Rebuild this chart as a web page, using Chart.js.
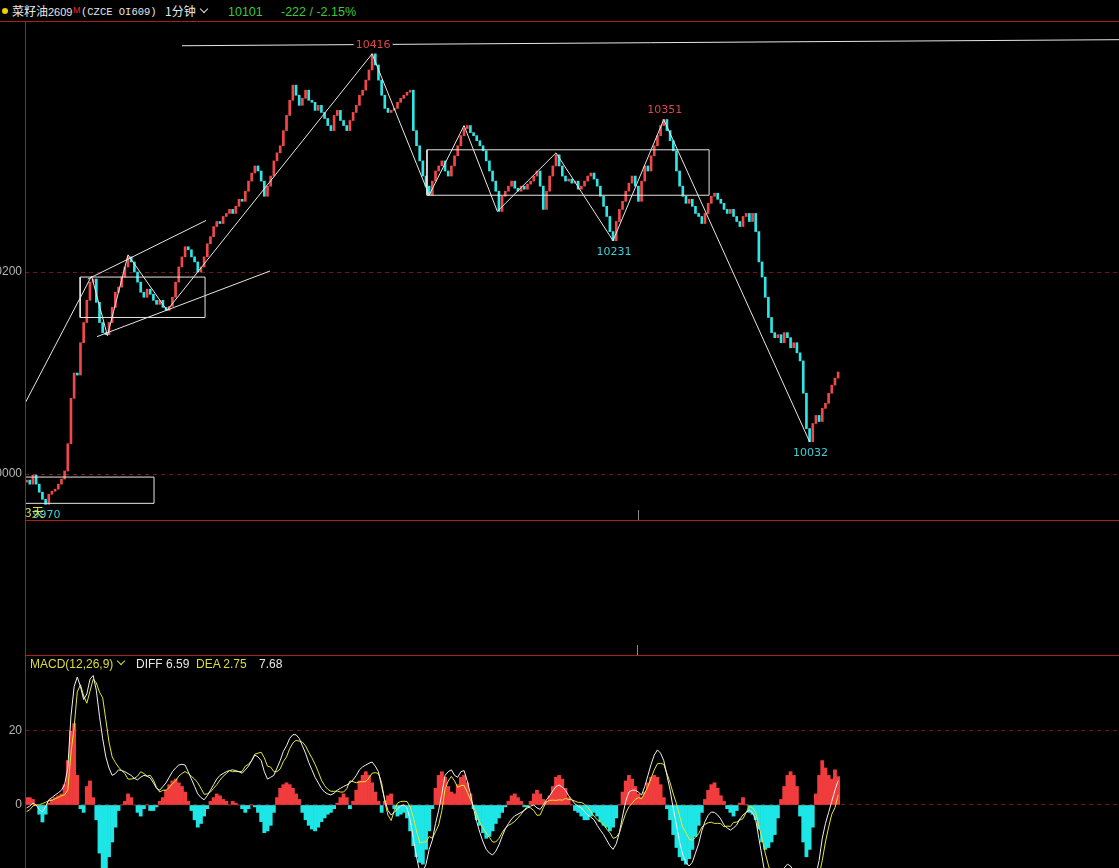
<!DOCTYPE html>
<html>
<head>
<meta charset="utf-8">
<script src="https://cdn.jsdelivr.net/npm/chart.js@4.4.1/dist/chart.umd.min.js"></script>
<style>
  body { margin: 0; background: #000; width: 1119px; height: 868px; overflow: hidden; position: relative; font-family: "Liberation Sans", Arial, sans-serif; }
  .abs { position: absolute; white-space: nowrap; line-height: 18px; }
  .red { position: absolute; background: #b01c1c; }
  canvas { position: absolute; left: 0; }
  .chev { position: absolute; width: 5px; height: 5px; border-right: 1.5px solid #e0e0e0; border-bottom: 1.5px solid #e0e0e0; transform: rotate(45deg); }
</style>
</head>
<body>
<canvas id="price" width="1119" height="499" style="top:21px"></canvas>
<canvas id="macd" width="1119" height="213" style="top:655px"></canvas>

<!-- panel frames -->
<div class="red" style="left:0;top:21px;width:1119px;height:1px"></div>
<div class="red" style="left:25px;top:520px;width:1094px;height:1px"></div>
<div class="red" style="left:25px;top:655px;width:1094px;height:1px"></div>
<div class="red" style="left:25px;top:21px;width:1px;height:847px"></div>
<div style="position:absolute;left:637px;top:645px;width:1px;height:10px;background:#888"></div>

<!-- header -->
<div style="position:absolute;left:2px;top:8px;width:6px;height:6px;border-radius:50%;background:#f0d000"></div>
<span class="abs" style="left:12px;top:2px;font-size:12px;font-family:'Noto Sans CJK SC';color:#e6e6e6">菜籽油</span>
<span class="abs" style="left:48px;top:3px;font-size:11px;color:#e6e6e6">2609</span>
<span class="abs" style="left:73px;top:1px;font-size:9px;color:#e03030">M</span>
<span class="abs" style="left:81px;top:3px;font-size:10.5px;font-family:'Liberation Mono';color:#e6e6e6">(CZCE OI609)</span>
<span class="abs" style="left:165px;top:2px;font-size:12px;font-family:'Noto Sans CJK SC';color:#e6e6e6">1分钟</span>
<div class="chev" style="left:201px;top:6px"></div>
<span class="abs" style="left:228px;top:3px;font-size:12.5px;color:#3cc83c">10101</span>
<span class="abs" style="left:281px;top:3px;font-size:12.5px;color:#3cc83c">-222 / -2.15%</span>

<!-- macd header -->
<span class="abs" style="left:30px;top:655px;font-size:12px;color:#dcdc3c">MACD(12,26,9)</span>
<div class="chev" style="left:118px;top:658px;border-color:#dcdc3c"></div>
<span class="abs" style="left:136px;top:655px;font-size:12px;color:#e8e8e8">DIFF 6.59</span>
<span class="abs" style="left:196px;top:655px;font-size:12px;color:#dcdc3c">DEA 2.75</span>
<span class="abs" style="left:259px;top:655px;font-size:12px;color:#e8e8e8">7.68</span>

<span class="abs" style="left:25px;top:503px;font-size:12px;font-family:'Noto Sans CJK SC';color:#e0e040;z-index:2">3天</span>

<script>
// 1-minute closes
const closes = [
  9994, 9990, 9999, 9990, 9982, 9975, 9970, 9980, 9983, 9985, 9990, 9995, 10003, 10030, 10075, 10100,
  10098, 10130, 10150, 10172, 10190, 10193, 10170, 10150, 10140, 10138, 10150, 10165, 10180, 10185, 10195, 10205,
  10215, 10210, 10200, 10190, 10180, 10175, 10183, 10178, 10172, 10168, 10172, 10165, 10162, 10166, 10175, 10190,
  10205, 10215, 10225, 10222, 10215, 10210, 10200, 10205, 10215, 10228, 10235, 10245, 10250, 10248, 10255, 10258,
  10262, 10258, 10265, 10272, 10270, 10280, 10290, 10298, 10305, 10300, 10290, 10275, 10285, 10295, 10310, 10318,
  10325, 10340, 10355, 10370, 10385, 10375, 10365, 10372, 10380, 10370, 10368, 10360, 10365, 10358, 10352, 10345,
  10340, 10355, 10360, 10350, 10345, 10340, 10350, 10358, 10365, 10375, 10380, 10390, 10400, 10416, 10405, 10390,
  10375, 10362, 10358, 10360, 10362, 10368, 10372, 10375, 10378, 10380, 10340, 10325, 10310, 10295, 10285, 10276,
  10290, 10300, 10305, 10310, 10300, 10295, 10305, 10315, 10325, 10335, 10342, 10345, 10338, 10335, 10330, 10325,
  10320, 10310, 10300, 10290, 10280, 10260, 10275, 10280, 10285, 10290, 10283, 10280, 10285, 10282, 10287, 10290,
  10295, 10300, 10285, 10262, 10280, 10295, 10305, 10316, 10305, 10295, 10290, 10292, 10288, 10290, 10282, 10285,
  10290, 10295, 10298, 10292, 10285, 10275, 10265, 10255, 10240, 10231, 10250, 10262, 10270, 10280, 10288, 10295,
  10285, 10270, 10290, 10305, 10300, 10315, 10325, 10335, 10345, 10351, 10340, 10330, 10320, 10300, 10285, 10275,
  10268, 10272, 10265, 10258, 10255, 10248, 10258, 10268, 10275, 10278, 10272, 10268, 10262, 10258, 10262, 10255,
  10250, 10245, 10255, 10258, 10250, 10258, 10240, 10210, 10195, 10175, 10155, 10140, 10135, 10138, 10130, 10140,
  10135, 10125, 10130, 10120, 10112, 10080, 10045, 10032, 10050, 10058, 10052, 10065, 10070, 10080, 10088, 10095, 10101
];
const firstOpen = 9992;

// MACD panel: DIFF (white line) and MACD bars
const diffLine = [
  -0.8, -0.3, 0.5, 0, -1.2, -1.9, -0.5, 1.4, 2, 2.7, 3.3, 4, 5.5, 10, 24, 32,
  34.6, 32, 28.5, 30, 34, 35, 31, 24, 18, 13, 10, 8, 8.5, 9.5, 9.3, 9,
  8.5, 8, 7.2, 6.8, 7.5, 8, 7.8, 7.3, 6, 4.5, 4, 5, 6, 7.5, 9, 10,
  10.8, 11, 10.8, 9, 7, 5, 3, 2, 1.4, 2.5, 4, 5.5, 7, 8, 8.5, 9,
  9.3, 9.5, 9.3, 9, 8.6, 9.5, 10.5, 12, 13.5, 13, 12, 9, 7, 7.5, 8, 10,
  12, 14.5, 16, 18, 19, 19, 18, 16, 14, 11.5, 9.5, 7.5, 6, 4.5, 3.5, 3,
  2.7, 3.2, 4, 4.5, 5, 5.4, 6, 6.8, 8, 9.5, 10.3, 10.8, 11.3, 11.6, 10.5, 9,
  5, 1.4, -1.5, -2.7, -2, -1, -0.3, 0, -0.8, -4, -9, -14, -18, -18, -16, -12,
  -9.5, -5, -1.4, 3, 8, 9, 9.5, 8, 7.5, 9, 9.3, 6.5, 3, -1, -4.5, -7.5,
  -10, -12, -13, -13.5, -12.5, -10.8, -8.5, -6.5, -5, -3.8, -2.9, -2.5, -2, -1.5, -0.8, -0.3,
  0, -0.8, -1.2, 0, 1.4, 2.5, 3.8, 5, 5.4, 4.8, 4, 2.5, 1.4, 0.3, -0.3, -0.8,
  -1.8, -2.7, -3.3, -4, -5.5, -6.8, -8, -9.5, -11, -12, -10.5, -7.5, -3, 1, 3.5, 4,
  4, 3.5, 2.7, 5, 8, 11, 13.5, 14.9, 14, 12, 8, 4, -1, -5.4, -10, -13.5,
  -15.5, -16.5, -15.5, -13, -10.5, -7, -4.5, -2.8, -1.9, -2, -2.7, -3.8, -5.4, -6.2, -6.8, -6.2,
  -5.4, -3.8, -2.7, -2, -1.4, -2, -4, -9, -14, -19, -22, -24, -24, -22, -19, -17,
  -16, -16.5, -18, -21, -25, -28, -29, -27, -23, -19, -15, -9, -5, -2, 1, 4, 6.59
];
const macdBars = [
  2, 2, 1.5, 0, -2.5, -4.6, -2.5, 0.5, 1.5, 2, 2.5, 3, 5.5, 12, 20, 22,
  8, -1, -2, 5, 6.5, 2, -4, -13, -22, -20, -14, -10, -6, -1.5, 0, 1,
  3, 2, 0, -2, -3, -1, 0, -1.5, -1.5, -0.5, 1, 2, 4, 5.5, 6.5, 7,
  6, 5, 3.5, 1, -1.5, -4, -6, -5, -3, -1, 1, 2, 3, 2.5, 1.5, 1,
  0, 1, 0.5, 0, -1, -2, -1, 0, -0.5, -2, -4.5, -7.5, -7, -5.5, -2, 2,
  4.5, 5.5, 6, 5.5, 4.5, 3, 1.5, -2, -4, -5.5, -6.5, -7, -6, -4.5, -3.5, -2.5,
  -2, -1, 0.5, 2, 3, 2, -1, 1, 4, 6.5, 8, 9, 8, 6, 3.5, 1,
  -2, 1, 2.5, 3, -1, -3, -2.5, -2, -3.5, -7, -11, -14, -15.5, -16, -12, -7,
  -1, 4.5, 8, 9, 7.5, 5, 3.5, 3, 5.5, 7.5, 8, 6, 3, -1, -4, -5.5,
  -7.5, -9, -8.5, -7, -5, -3.5, -2, -0.5, 1, 2.5, 3, 2, 1, -0.5, -0.5, 1,
  3, 4, 3, 1.5, 1, 2.5, 5, 7.5, 8, 7, 4.5, 2, 0, -1.5, -2, -3,
  -4, -4, -3, -2, -3, -4.5, -5.5, -6, -7, -6, -3.5, 0, 3.5, 6.5, 8, 7,
  5, 3, 2, 3.5, 6, 7.5, 8, 7.5, 5.5, 2, -1, -4, -8, -11.5, -14, -15,
  -16, -14.5, -12, -8.5, -5.5, -2, 1.5, 4, 5.5, 6, 4.5, 2.5, 1, -1, -2, -3,
  -1.5, 0.5, 2, 0, -2, -2.5, -4, -6.5, -10, -12, -11.5, -10, -8, -3.5, 1.5, 5,
  8, 9, 8, 5, -3, -10, -14, -12, -6, 3, 8, 12, 10, 8, 7, 9.5, 7.68
];

const slotCount = 345;          // bar slots across the panel width
const priceTicks = [10000, 10200];
const macdTicks = [0, 20];
const pivotHighs = [109, 201];
const pivotLows = [6, 185, 247];
const sessionMark = 193;

// hand drawings, in (bar index, price)
const topLine = [[49, 10424], [344.6, 10430]];
const leftRise = [[-0.5, 10070], [20.5, 10196]];
const leftZigzag = [[20.5, 10196], [25.5, 10137], [32, 10217], [44.3, 10162], [109, 10416]];
const mainZigzag = [[109, 10416], [127, 10276], [138, 10345], [148.5, 10260], [167, 10318], [185, 10231], [201, 10351], [247, 10032]];
const channelTop = [[19.3, 10193], [56.6, 10251]];
const channelBottom = [[22.2, 10136], [76.8, 10201]];
const box1 = [16.9, 56.3, 10155, 10195];
const box2 = [-0.5, 40.2, 9971, 9997];
const box3 = [126.3, 215.3, 10276, 10321];

const UP = '#f04848', DOWN = '#2ee6e6', FLAT = '#9a9a9a';

const opens = closes.map((c, i) => i === 0 ? firstOpen : closes[i - 1]);
const candleColors = closes.map((c, i) => c > opens[i] ? UP : (c < opens[i] ? DOWN : FLAT));
// MACD bar = 2 * (DIFF - DEA)
const deaLine = diffLine.map((d, i) => d - macdBars[i] / 2);

const boxPts = b => [[b[0], b[2]], [b[1], b[2]], [b[1], b[3]], [b[0], b[3]], [b[0], b[2]]];
const drawing = pts => ({
  type: 'line', data: pts.map(([x, y]) => ({ x, y })), borderColor: '#e6e6e6', borderWidth: 1,
  pointRadius: 0, fill: false, tension: 0, order: 1
});
const series = (arr, color) => ({
  type: 'line', data: arr.map((v, i) => ({ x: i, y: v })), borderColor: color, borderWidth: 1,
  pointRadius: 0, tension: 0, order: 1
});

function yAxis(min, max, ticks) {
  return {
    position: 'left', min, max,
    afterBuildTicks: s => { s.ticks = ticks.map(v => ({ value: v })); },
    afterFit: s => { s.width = 25; s.paddingTop = 0; s.paddingBottom = 0; },
    grid: { color: '#7a1414', drawTicks: false },
    border: { display: false, dash: [4, 4] },
    ticks: { color: '#b4b4b4', padding: 3, font: { size: 12, family: 'Liberation Sans' }, callback: v => String(v) }
  };
}
const xAxis = { type: 'linear', min: -0.5, max: slotCount - 0.4, offset: false, grid: { offset: false }, display: false };

const pivotLabels = {
  id: 'pivotLabels',
  afterDatasetsDraw(chart) {
    const { ctx, scales: { x, y }, chartArea } = chart;
    ctx.save();
    ctx.font = '11px "DejaVu Sans"';
    ctx.textAlign = 'center';
    ctx.textBaseline = 'middle';
    const put = (i, v, dy, color) => {
      const px = x.getPixelForValue(i) + 1, py = y.getPixelForValue(v) + dy;
      const t = String(v), w = ctx.measureText(t).width;
      ctx.fillStyle = '#000';
      ctx.fillRect(px - w / 2 - 2, py - 6, w + 4, 12);
      ctx.fillStyle = color;
      ctx.fillText(t, px, py);
    };
    pivotHighs.forEach(i => put(i, Math.max(opens[i], closes[i]), -9, '#dc4646'));
    pivotLows.forEach(i => put(i, Math.min(opens[i], closes[i]), 11, '#3cd2dc'));
    ctx.strokeStyle = '#888';
    ctx.beginPath();
    const sx = Math.round(x.getPixelForValue(sessionMark)) + 0.5;
    ctx.moveTo(sx, chartArea.bottom - 10);
    ctx.lineTo(sx, chartArea.bottom);
    ctx.stroke();
    ctx.restore();
  }
};

const base = {
  responsive: false, animation: false, devicePixelRatio: 1, events: [],
  layout: { padding: 0 },
  plugins: { legend: { display: false }, tooltip: { enabled: false } }
};

// price panel: 21..520 px, 10000 at 474, 10200 at 272
new Chart(document.getElementById('price'), {
  type: 'bar',
  data: {
    datasets: [
      {
        data: closes.map((c, i) => ({ x: i, y: [opens[i], c] })),
        backgroundColor: candleColors, borderWidth: 0, barThickness: 2, minBarLength: 1, order: 2
      },
      drawing(topLine), drawing(leftRise), drawing(leftZigzag), drawing(mainZigzag),
      drawing(channelTop), drawing(channelBottom),
      drawing(boxPts(box1)), drawing(boxPts(box2)), drawing(boxPts(box3))
    ]
  },
  options: { ...base, scales: { x: xAxis, y: yAxis(9954.5, 10448.5, priceTicks) } },
  plugins: [pivotLabels]
});

// MACD panel: 655..868 px, 0 at 805, 20 at 731
new Chart(document.getElementById('macd'), {
  type: 'bar',
  data: {
    datasets: [
      series(diffLine, '#f0f0f0'),
      series(deaLine, '#e6e632'),
      {
        data: macdBars.map((v, i) => ({ x: i, y: v })),
        backgroundColor: macdBars.map(v => v >= 0 ? '#f03c3c' : '#1ee6e6'),
        borderWidth: 0, barPercentage: 1, categoryPercentage: 1, order: 2
      }
    ]
  },
  options: { ...base, scales: { x: xAxis, y: yAxis(-17.03, 40.54, macdTicks) } }
});
</script>
</body>
</html>
